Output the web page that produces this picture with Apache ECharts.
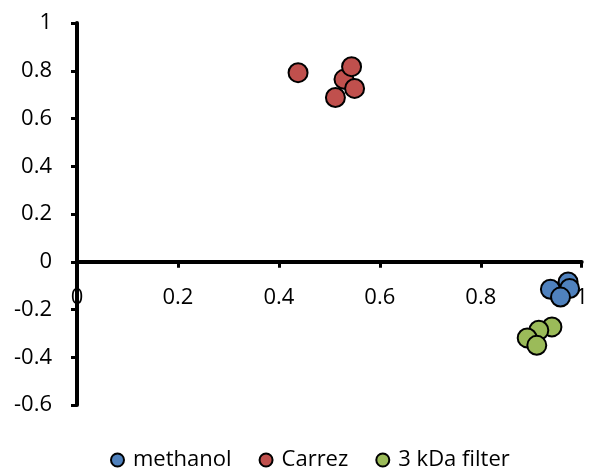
<!DOCTYPE html>
<html>
<head>
<meta charset="utf-8">
<script src="https://cdn.jsdelivr.net/npm/echarts@6/dist/echarts.min.js"></script>
<style>html,body{margin:0;padding:0;background:#fff;}#c{width:591px;height:471px;}</style>
</head>
<body>
<div id="c"></div>
<script>
var seriesNames = ['methanol', 'Carrez', '3 kDa filter'];
var seriesColors = ['#4F81BD', '#C0504D', '#9BBB59'];
var methanol = [[0.938, -0.115], [0.973, -0.085], [0.976, -0.112], [0.958, -0.148]];
var carrez = [[0.438, 0.792], [0.529, 0.764], [0.544, 0.817], [0.550, 0.726], [0.512, 0.688]];
var filter3k = [[0.941, -0.273], [0.915, -0.287], [0.892, -0.319], [0.911, -0.350]];
var xTicks = [0, 0.2, 0.4, 0.6, 0.8, 1];
var yTicks = [-0.6, -0.4, -0.2, 0, 0.2, 0.4, 0.6, 0.8, 1];

var data = [methanol, carrez, filter3k];
var font = 'Open Sans';
var W = 591, H = 471;
var gridLeft = 77, gridRight = 6, gridTop = 23, gridBottom = 66;
var yMin = yTicks[0], yMax = yTicks[yTicks.length - 1];
var plotH = H - gridTop - gridBottom;
// move the x axis (line, ticks and labels) up to y = 0
var xAxisOffset = -plotH * (0 - yMin) / (yMax - yMin);

var chart = echarts.init(document.getElementById('c'), null, {renderer: 'canvas'});
chart.setOption({
  animation: false,
  backgroundColor: '#fff',
  grid: {left: gridLeft, right: gridRight, top: gridTop, bottom: gridBottom, containLabel: false},
  legend: {
    data: seriesNames,
    left: 105,
    top: 444,
    itemWidth: 13,
    itemHeight: 13,
    itemGap: 27,
    icon: 'circle',
    textStyle: {fontFamily: font, fontSize: 22, color: '#000', padding: [0, 0, 0, 4]}
  },
  xAxis: {
    type: 'value',
    position: 'bottom',
    offset: xAxisOffset,
    min: xTicks[0],
    max: xTicks[xTicks.length - 1],
    interval: 0.2,
    splitLine: {show: false},
    axisLine: {onZero: false, lineStyle: {color: '#000', width: 4}},
    axisTick: {show: true, length: 6, lineStyle: {color: '#000', width: 3}},
    axisLabel: {margin: 25, fontFamily: font, fontSize: 22, color: '#000'}
  },
  yAxis: {
    type: 'value',
    min: yMin,
    max: yMax,
    interval: 0.2,
    splitLine: {show: false},
    axisLine: {show: true, onZero: false, lineStyle: {color: '#000', width: 4}},
    axisTick: {show: true, length: 6, lineStyle: {color: '#000', width: 3}},
    axisLabel: {margin: 25, fontFamily: font, fontSize: 22, color: '#000'}
  },
  series: seriesNames.map(function (n, i) {
    return {
      name: n,
      type: 'scatter',
      data: data[i],
      symbol: 'circle',
      symbolSize: 19,
      itemStyle: {color: seriesColors[i], borderColor: '#000', borderWidth: 2, opacity: 1}
    };
  })
});
</script>
</body>
</html>
